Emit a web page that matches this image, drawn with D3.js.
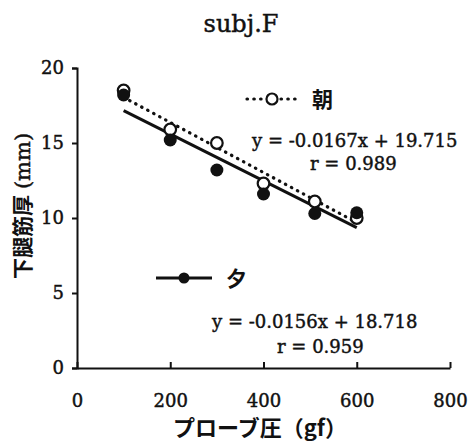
<!DOCTYPE html>
<html>
<head>
<meta charset="utf-8">
<script src="https://cdn.jsdelivr.net/npm/d3@7"></script>
<style>
  body { margin: 0; background: #fff; }
  text { fill: #111; }
</style>
</head>
<body>
<div id="chart"></div>
<script>
// probe pressure (gf) and muscle thickness (mm)
const pressure = [100, 200, 300, 400, 510, 600];
const morning = [18.5, 15.9, 15.0, 12.3, 11.1, 10.0];   // 朝 (open)
const evening = [18.2, 15.2, 13.2, 11.6, 10.3, 10.35];  // 夕 (filled)
const morningFit = { slope: -0.0167, intercept: 19.715, r: 0.989 };
const eveningFit = { slope: -0.0156, intercept: 18.718, r: 0.959 };
const xTicks = [0, 200, 400, 600, 800];
const yTicks = [0, 5, 10, 15, 20];

const width = 469, height = 442;
const margin = { top: 68, right: 19, bottom: 74, left: 77 };
const serif = "'DejaVu Serif', serif";
const gothic = "'Noto Sans CJK JP', sans-serif";

const svg = d3.select("#chart").append("svg")
    .attr("width", width).attr("height", height);

const x = d3.scaleLinear().domain([0, 800]).range([margin.left, width - margin.right]);
const y = d3.scaleLinear().domain([0, 20]).range([height - margin.bottom, margin.top]);

// heavier serif look like the scanned figure
const heavy = sel => sel.attr("stroke", "#111").attr("stroke-width", 0.45);

// axes
const xAxis = svg.append("g")
    .attr("transform", `translate(0,${y(0)})`)
    .call(d3.axisBottom(x).tickValues(xTicks).tickSizeOuter(0).tickPadding(20));
const yAxis = svg.append("g")
    .attr("transform", `translate(${x(0)},0)`)
    .call(d3.axisLeft(y).tickValues(yTicks).tickSize(5).tickPadding(8));

[xAxis, yAxis].forEach(g => {
    g.select(".domain").attr("stroke", "#111").attr("stroke-width", 2);
    g.selectAll(".tick line").attr("stroke", "#111").attr("stroke-width", 2);
    g.selectAll(".tick text").style("font-family", serif).style("font-size", "18px").attr("fill", "#111").call(heavy);
});
// x ticks point upward from the axis
xAxis.selectAll(".tick line").attr("y1", 0).attr("y2", -6);

// title
svg.append("text")
    .attr("x", 241).attr("y", 32)
    .attr("text-anchor", "middle")
    .style("font-family", serif).style("font-size", "24px")
    .call(heavy)
    .text("subj.F");

// axis titles
svg.append("text")
    .attr("x", 260).attr("y", 436)
    .attr("text-anchor", "middle")
    .style("font-family", gothic).style("font-size", "22px").style("font-weight", "bold")
    .text("プローブ圧（gf）");

const yTitle = svg.append("text")
    .attr("transform", "translate(30,206) rotate(-90)")
    .attr("text-anchor", "middle");
yTitle.append("tspan").style("font-family", gothic).style("font-weight", "bold").style("font-size", "21px").text("下腿筋厚");
yTitle.append("tspan").style("font-family", serif).style("font-size", "21px").attr("dx", 6).call(heavy).text("(mm)");

// trend lines
const xs = [100, 600];
const line = d3.line().x(d => x(d[0])).y(d => y(d[1]));

svg.append("path")
    .datum(xs.map(v => [v, morningFit.slope * v + morningFit.intercept]))
    .attr("d", line)
    .attr("fill", "none").attr("stroke", "#111")
    .attr("stroke-width", 3.2).attr("stroke-linecap", "round")
    .attr("stroke-dasharray", "0.5,6.3");

svg.append("path")
    .datum(xs.map(v => [v, eveningFit.slope * v + eveningFit.intercept]))
    .attr("d", line)
    .attr("fill", "none").attr("stroke", "#111").attr("stroke-width", 3);

// points
svg.append("g").selectAll("circle")
    .data(pressure.map((p, i) => [p, morning[i]]))
    .join("circle")
    .attr("cx", d => x(d[0])).attr("cy", d => y(d[1])).attr("r", 5.8)
    .attr("fill", "#fff").attr("stroke", "#111").attr("stroke-width", 2.2);

svg.append("g").selectAll("circle")
    .data(pressure.map((p, i) => [p, evening[i]]))
    .join("circle")
    .attr("cx", d => x(d[0])).attr("cy", d => y(d[1])).attr("r", 6.5)
    .attr("fill", "#111");

// legends
const lg1 = svg.append("g");
lg1.append("line").attr("x1", 247).attr("x2", 300).attr("y1", 99).attr("y2", 99)
    .attr("stroke", "#111").attr("stroke-width", 3.2).attr("stroke-linecap", "round")
    .attr("stroke-dasharray", "0.5,6.3");
lg1.append("circle").attr("cx", 272).attr("cy", 99).attr("r", 5.5)
    .attr("fill", "#fff").attr("stroke", "#111").attr("stroke-width", 2.2);
lg1.append("text").attr("x", 312).attr("y", 107)
    .style("font-family", gothic).style("font-size", "21px").style("font-weight", "bold")
    .text("朝");

const lg2 = svg.append("g");
lg2.append("line").attr("x1", 156).attr("x2", 212).attr("y1", 278).attr("y2", 278)
    .attr("stroke", "#111").attr("stroke-width", 3.2);
lg2.append("circle").attr("cx", 184).attr("cy", 278).attr("r", 5.5).attr("fill", "#111");
lg2.append("text").attr("x", 226).attr("y", 286)
    .style("font-family", gothic).style("font-size", "21px").style("font-weight", "bold")
    .text("夕");

// equations
const fmt = fit => `y = ${fit.slope.toFixed(4)}x + ${fit.intercept.toFixed(3)}`;
const eqs = [
    { t: fmt(morningFit), x: 252, y: 147 },
    { t: `r  = ${morningFit.r.toFixed(3)}`, x: 310, y: 170 },
    { t: fmt(eveningFit), x: 212, y: 328 },
    { t: `r = ${eveningFit.r.toFixed(3)}`, x: 277, y: 353 }
];
svg.append("g").selectAll("text")
    .data(eqs)
    .join("text")
    .attr("x", d => d.x).attr("y", d => d.y)
    .style("font-family", serif).style("font-size", "18px")
    .call(heavy)
    .text(d => d.t);
</script>
</body>
</html>
